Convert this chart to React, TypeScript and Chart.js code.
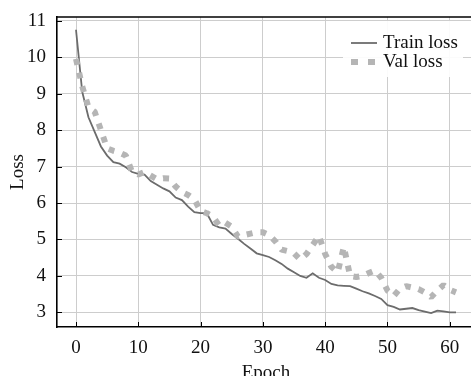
import { useEffect, useRef } from 'react';
import { Chart, registerables } from 'chart.js';

Chart.register(...registerables);

const trainLoss = [
  10.75, 9.05, 8.35, 7.95, 7.55, 7.3, 7.12, 7.08, 6.98, 6.85,
  6.8, 6.78, 6.6, 6.5, 6.4, 6.32, 6.15, 6.08, 5.9, 5.75,
  5.72, 5.72, 5.4, 5.33, 5.3, 5.15, 5.02, 4.88, 4.75, 4.62,
  4.57, 4.52, 4.43, 4.33, 4.2, 4.1, 4.0, 3.95, 4.07, 3.95,
  3.89, 3.78, 3.74, 3.73, 3.72, 3.65, 3.58, 3.52, 3.45, 3.37,
  3.2, 3.15, 3.08, 3.1, 3.12, 3.06, 3.02, 2.98, 3.05, 3.03,
  3.0, 3.0,
];

const valLoss = [
  9.95, 9.2, 8.62, 8.5, 8.0, 7.5, 7.43, 7.38, 7.3, 6.85,
  6.78, 6.85, 6.75, 6.65, 6.68, 6.67, 6.45, 6.3, 6.22, 6.1,
  5.78, 5.72, 5.62, 5.38, 5.46, 5.35, 5.08, 5.12, 5.16, 5.2,
  5.2, 5.12, 4.95, 4.72, 4.68, 4.62, 4.45, 4.6, 4.85, 5.1,
  4.6, 4.25, 4.1, 4.8, 4.0, 3.97, 4.0, 4.08, 4.15, 3.95,
  3.6, 3.45, 3.65, 3.72, 3.68, 3.64, 3.55, 3.42, 3.6, 3.75,
  3.62, 3.55,
];

const seriesLabels = ['Train loss', 'Val loss'];
const xTicks = [0, 10, 20, 30, 40, 50, 60];
const yTicks = [3, 4, 5, 6, 7, 8, 9, 10, 11];
const xTitle = 'Epoch';
const yTitle = 'Loss';

const FONT = '"Liberation Serif", "DejaVu Serif", serif';
const TRAIN_COLOR = '#6c6c6c';
const VAL_COLOR = '#b5b5b5';
const GRID = '#cdcdcd';

const CW = 480;
const CH = 392;
const PLOT_TOP = 17;
const PLOT_BOTTOM = 327;

const framePlugin = {
  id: 'frameAndLegend',
  afterDraw(chart: any) {
    const { ctx, chartArea: a, scales } = chart;
    const x = scales.x;
    const y = scales.y;
    ctx.save();
    // top frame line
    ctx.strokeStyle = '#000';
    ctx.lineWidth = 1.6;
    ctx.beginPath();
    ctx.moveTo(a.left, a.top);
    ctx.lineTo(a.right, a.top);
    ctx.stroke();
    // inward tick marks
    ctx.lineWidth = 1;
    ctx.beginPath();
    xTicks.forEach((v) => {
      const px = Math.round(x.getPixelForValue(v)) + 0.5;
      ctx.moveTo(px, a.bottom);
      ctx.lineTo(px, a.bottom - 5);
    });
    yTicks.forEach((v) => {
      const py = Math.round(y.getPixelForValue(v)) + 0.5;
      ctx.moveTo(a.left, py);
      ctx.lineTo(a.left + 5, py);
    });
    ctx.stroke();

    // legend
    const lx = a.right - 132;
    const ly = a.top + 4;
    ctx.fillStyle = 'rgba(255,255,255,0.92)';
    ctx.fillRect(lx, ly, 120, 56);
    const ds = chart.data.datasets;
    const rows = [ly + 22, ly + 41];
    ds.forEach((d: any, i: number) => {
      const ry = rows[i];
      ctx.save();
      ctx.strokeStyle = d.borderColor;
      ctx.lineWidth = i === 0 ? 1.8 : 6;
      ctx.lineCap = 'butt';
      if (i === 1) ctx.setLineDash([7, 10]);
      ctx.beginPath();
      ctx.moveTo(lx + 8, ry);
      ctx.lineTo(lx + 34, ry);
      ctx.stroke();
      ctx.restore();
      ctx.fillStyle = '#111';
      ctx.font = `19px ${FONT}`;
      ctx.textBaseline = 'middle';
      ctx.textAlign = 'left';
      ctx.fillText(d.label, lx + 40, ry);
    });
    ctx.restore();
  },
};

export default function App() {
  const ref = useRef<HTMLCanvasElement | null>(null);

  useEffect(() => {
    if (!ref.current) return;
    const epochs = trainLoss.map((_, i) => i);
    const chart = new Chart(ref.current, {
      type: 'line',
      data: {
        datasets: [
          {
            label: seriesLabels[0],
            data: epochs.map((e) => ({ x: e, y: trainLoss[e] })),
            borderColor: TRAIN_COLOR,
            backgroundColor: TRAIN_COLOR,
            borderWidth: 1.8,
            pointRadius: 0,
            tension: 0,
            fill: false,
            order: 1,
          },
          {
            label: seriesLabels[1],
            data: epochs.map((e) => ({ x: e, y: valLoss[e] })),
            borderColor: VAL_COLOR,
            backgroundColor: VAL_COLOR,
            borderWidth: 6,
            borderDash: [6, 8],
            borderCapStyle: 'butt',
            borderJoinStyle: 'bevel',
            pointRadius: 0,
            tension: 0,
            fill: false,
            order: 0,
          },
        ],
      },
      options: {
        animation: false,
        responsive: false,
        maintainAspectRatio: false,
        layout: { autoPadding: false, padding: { top: 0, right: 5, left: 0, bottom: 0 } },
        plugins: {
          legend: { display: false },
          tooltip: { enabled: false },
        },
        scales: {
          x: {
            type: 'linear',
            min: -3.05,
            max: 64.05,
            afterBuildTicks: (s: any) => {
              s.ticks = xTicks.map((v) => ({ value: v }));
            },
            afterFit: (s: any) => {
              s.height = CH - PLOT_BOTTOM;
            },
            grid: { color: GRID, lineWidth: 1, drawTicks: false },
            border: { color: '#000', width: 1.6 },
            ticks: {
              padding: 10,
              color: '#111',
              font: { family: FONT, size: 19 },
              maxRotation: 0,
            },
            title: {
              display: true,
              text: xTitle,
              color: '#111',
              font: { family: FONT, size: 19 },
              padding: { top: 0, bottom: 8 },
            },
          },
          y: {
            type: 'linear',
            min: 2.6,
            max: 11.1,
            afterBuildTicks: (s: any) => {
              s.ticks = yTicks.map((v) => ({ value: v }));
            },
            afterFit: (s: any) => {
              s.width = 57;
              s.paddingTop = PLOT_TOP;
              s.paddingBottom = 0;
            },
            grid: { color: GRID, lineWidth: 1, drawTicks: false },
            border: { color: '#000', width: 1.6 },
            ticks: {
              padding: 11,
              color: '#111',
              font: { family: FONT, size: 19 },
            },
            title: {
              display: true,
              text: yTitle,
              color: '#111',
              font: { family: FONT, size: 19 },
              padding: { top: 7, bottom: 0 },
            },
          },
        },
      },
      plugins: [
        framePlugin,
        {
          id: 'fixTop',
          beforeLayout(chart: any) {
            chart.options.layout.padding = { top: PLOT_TOP, right: 5, left: 0, bottom: 0 };
          },
        },
      ],
    });
    return () => chart.destroy();
  }, []);

  return (
    <div style={{ position: 'fixed', left: 0, top: 0, width: 471, height: 376, overflow: 'hidden', background: '#fff' }}>
      <canvas ref={ref} width={CW} height={CH} style={{ display: 'block', width: CW, height: CH }} />
    </div>
  );
}
